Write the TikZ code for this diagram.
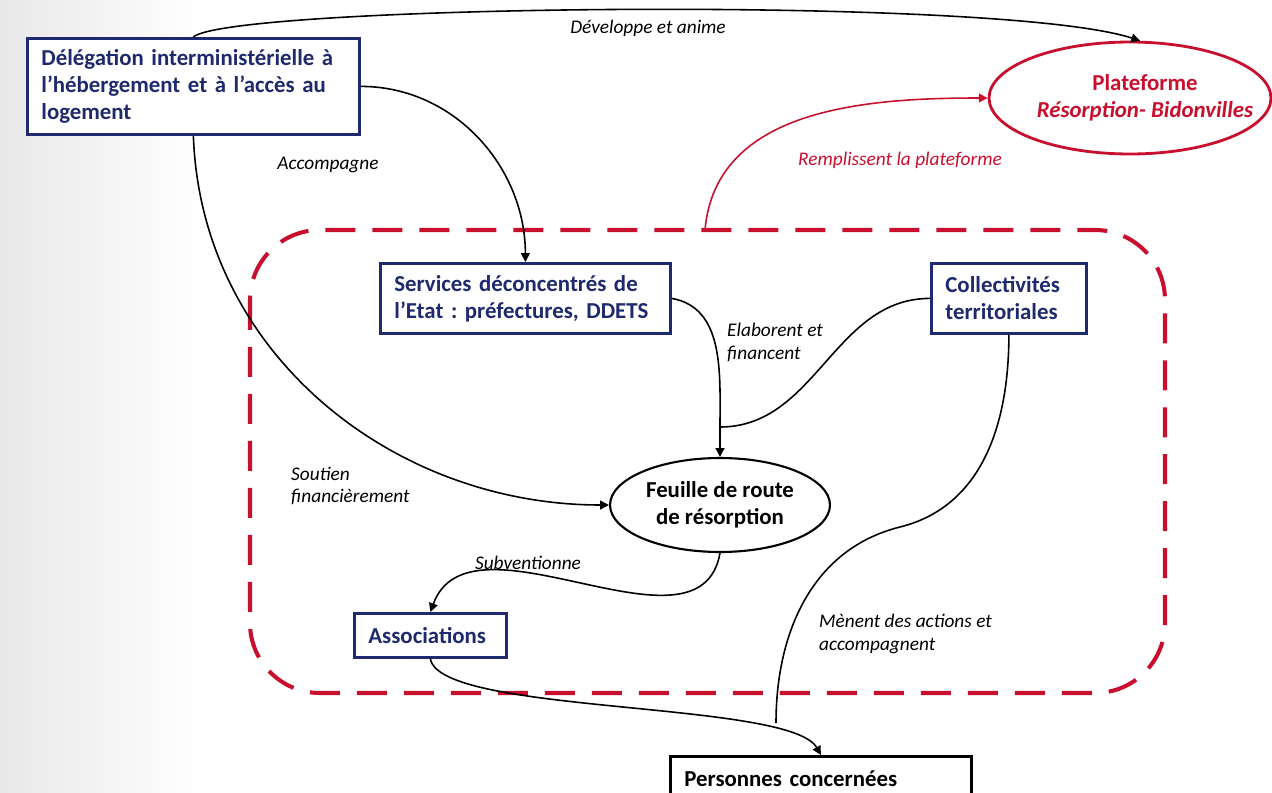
\documentclass[tikz,border=0pt]{standalone}
\usepackage{fontspec}
\setmainfont{Carlito}
\usetikzlibrary{positioning,shapes.geometric,arrows.meta}
\definecolor{navy}{HTML}{1F2A6E}
\definecolor{plred}{HTML}{C8102E}
\tikzset{
  actor/.style={draw=navy, line width=1.6pt, text=navy, fill=white,
    font=\fontsize{13}{15.5}\selectfont\bfseries, align=left, inner xsep=0.28cm},
  roadmap/.style={ellipse, draw=black, line width=1.2pt, fill=white, inner sep=0pt,
    font=\fontsize{13}{15.5}\selectfont\bfseries, align=center},
  link/.style={line width=0.9pt, -{Triangle[length=5pt,width=5pt]}},
  verb/.style={font=\fontsize{11}{13}\selectfont\itshape, align=left},
}
\frenchspacing
\newcommand{\platline}[1]{\makebox[0pt][c]{\hspace*{0.6cm}#1}}

\begin{document}
\begin{tikzpicture}[x=0.02cm, y=-0.02cm]
  \useasboundingbox (0,0) rectangle (1272,792);
  \shade[left color=black!9, right color=white] (0,0) rectangle (200,792);

  % frame of the local actors
  \draw[plred, line width=2.3pt, dash pattern=on 0.6cm off 0.34cm, rounded corners=1.4cm]
    (250,230) rectangle (1165,693);

  \node[actor, text width=6.08cm, minimum height=1.92cm, anchor=north west] (deleg) at (26,37)
    {Délégation interministérielle à\\ l’hébergement et à l’accès au\\ logement};
  \node[ellipse, draw=plred, line width=1.6pt, text=plred, fill=white, inner sep=0pt,
    minimum width=5.64cm, minimum height=2.24cm, align=center,
    font=\fontsize{13}{15.5}\selectfont\bfseries] (plat) at (1130,98)
    {\platline{Plateforme}\\ \platline{\textit{Résorption- Bidonvilles}}};
  \node[actor, text width=5.24cm, minimum height=1.4cm, anchor=north west] (services) at (379,262)
    {Services déconcentrés de\\ l’Etat : préfectures, DDETS};
  \node[actor, text width=2.54cm, minimum height=1.4cm, anchor=north west] (collect) at (930,262)
    {Collectivités\\ territoriales};
  \node[roadmap, minimum width=4.4cm, minimum height=1.88cm] (feuille) at (720,505)
    {Feuille de route\\ de résorption};
  \node[actor, text width=2.48cm, minimum height=0.88cm, anchor=north west] (assoc) at (353,612)
    {Associations};
  \node[actor, draw=black, text=black, text width=5.46cm, minimum height=0.9cm, anchor=north west]
    (personnes) at (669,755) {Personnes concernées};

  \coordinate (fill) at (705,230);
  \coordinate (join) at (720,427);
  \coordinate (bend) at (900,527);
  \coordinate (meet) at (776,723);

  % connectors
  \draw[link] (deleg.north) .. controls (230,5) and (1000,-5) .. (plat.80);
  \draw[link] (deleg.east) to[out=0, in=90] (services.north);
  \draw[link] (deleg.south) to[out=-88, in=180] (feuille.west);
  \draw[link, plred] (fill) to[out=85, in=180] (plat.west);
  \draw[line width=0.9pt] (services.east) to[out=-10, in=90] (join);
  \draw[link] (join) -- (feuille.north);
  \draw[line width=0.9pt] (collect.west) to[out=180, in=0] (join);
  \draw[link] (feuille.south) to[out=-100, in=70] (assoc.north);
  \draw[link] (assoc.south) .. controls (440,715) and (790,700) .. (personnes.north);
  \draw[line width=0.9pt] (collect.south) to[out=-90, in=14] (bend)
    to[out=194, in=90] (meet);

  % labels
  \node[verb] (anime) at (648,28) {Développe et anime};
  \node[verb] (accomp) at (328,165) {Accompagne};
  \node[verb, text=plred] (remplir) at (900,160) {Remplissent la plateforme};
  \node[verb, anchor=west] (soutien) at (285,486) {Soutien\\ financièrement};
  \node[verb, anchor=west] (elabore) at (721,342) {Elaborent et\\ financent};
  \node[verb] (subv) at (528,563) {Subventionne};
  \node[verb, anchor=west] (menent) at (813,634) {Mènent des actions et\\ accompagnent};
\end{tikzpicture}
\end{document}
